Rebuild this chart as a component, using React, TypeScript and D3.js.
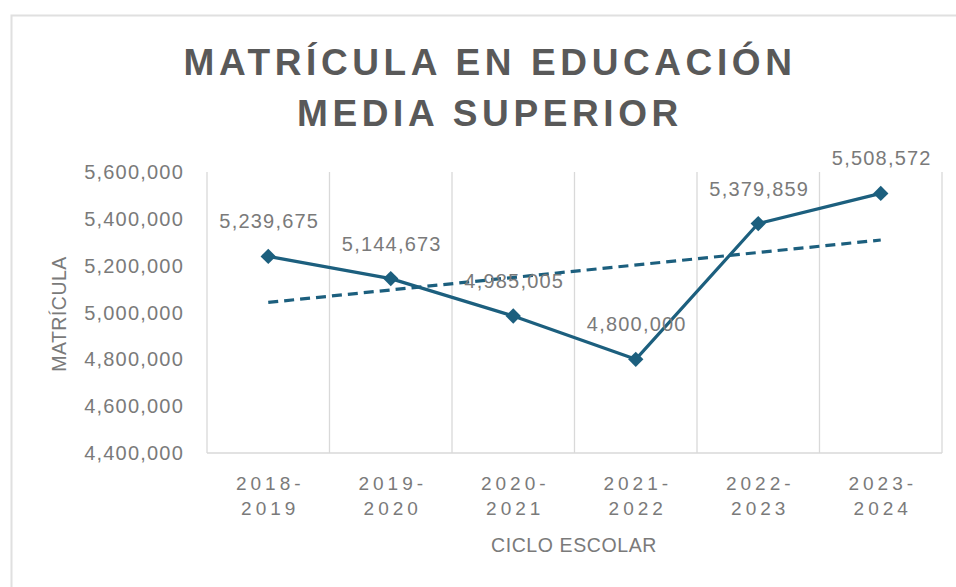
import React from "react";
import * as d3 from "d3";

const categories: string[][] = [
  ["2018-", "2019"],
  ["2019-", "2020"],
  ["2020-", "2021"],
  ["2021-", "2022"],
  ["2022-", "2023"],
  ["2023-", "2024"],
];
const values: number[] = [5239675, 5144673, 4985005, 4800000, 5379859, 5508572];
const yTicks: number[] = [4400000, 4600000, 4800000, 5000000, 5200000, 5400000, 5600000];
const titleLines: string[] = ["MATRÍCULA EN EDUCACIÓN", "MEDIA SUPERIOR"];
const yTitle = "MATRÍCULA";
const xTitle = "CICLO ESCOLAR";

const W = 956;
const H = 587;
const left = 207;
const right = 942;
const top = 172;
const bottom = 453;
const lineColor = "#1c5f7e";
const textGray = "#7a7a7a";
const gridGray = "#d9d9d9";
const font = "'Liberation Sans', Arial, sans-serif";

export default function App() {
  const keys = categories.map((c) => c.join(""));
  const x = d3.scaleBand<string>().domain(keys).range([left, right]).padding(0);
  const y = d3.scaleLinear().domain([4400000, 5600000]).range([bottom, top]);
  const cx = (i: number) => (x(keys[i]) as number) + x.bandwidth() / 2;
  const fmt = d3.format(",");

  const pts: [number, number][] = values.map((v, i) => [cx(i), y(v)]);
  const line = d3.line<[number, number]>()(pts) || "";

  // linear trend (least squares over index)
  const n = values.length;
  const idx = values.map((_, i) => i + 1);
  const mx = d3.mean(idx) as number;
  const my = d3.mean(values) as number;
  const sxy = d3.sum(idx.map((xi, i) => (xi - mx) * (values[i] - my)));
  const sxx = d3.sum(idx.map((xi) => (xi - mx) * (xi - mx)));
  const slope = sxy / sxx;
  const icpt = my - slope * mx;
  const trendPts: [number, number][] = [
    [cx(0), y(icpt + slope * 1)],
    [cx(n - 1), y(icpt + slope * n)],
  ];
  const trend = d3.line<[number, number]>()(trendPts) || "";

  const boundaries = d3.range(keys.length + 1).map((i) =>
    i < keys.length ? (x(keys[i]) as number) : right
  );

  return (
    <svg
      width={W}
      height={H}
      style={{ position: "absolute", left: 0, top: 0, background: "#fff" }}
      fontFamily={font}
    >
      <rect x={11.5} y={15.5} width={W + 20} height={H + 20} fill="#fff" stroke="#e0e0e0" strokeWidth={2} />
      {/* title */}
      {titleLines.map((t, i) => (
        <text
          key={t}
          x={490}
          y={75 + i * 51}
          textAnchor="middle"
          fontSize={37}
          fontWeight="bold"
          fill="#595959"
          letterSpacing={4.6}
        >
          {t}
        </text>
      ))}
      {/* grid / axes */}
      {boundaries.map((bx, i) => (
        <line key={i} x1={bx} x2={bx} y1={top} y2={bottom} stroke={gridGray} strokeWidth={1.3} />
      ))}
      <line x1={left} x2={right} y1={bottom} y2={bottom} stroke={gridGray} strokeWidth={1.5} />
      {/* y ticks */}
      {yTicks.map((t) => (
        <text
          key={t}
          x={184}
          y={y(t) + 7}
          textAnchor="end"
          fontSize={20}
          fill={textGray}
          letterSpacing={1.2}
        >
          {fmt(t)}
        </text>
      ))}
      {/* x labels */}
      {categories.map((c, i) => (
        <text key={keys[i]} textAnchor="middle" fontSize={19} fill={textGray} letterSpacing={4}>
          <tspan x={cx(i) + 2} y={490}>
            {c[0]}
          </tspan>
          <tspan x={cx(i) + 2} y={515}>
            {c[1]}
          </tspan>
        </text>
      ))}
      <text x={574} y={552} textAnchor="middle" fontSize={19.5} fill={textGray} letterSpacing={0.6}>
        {xTitle}
      </text>
      <text
        transform={`translate(66,${314}) rotate(-90)`}
        textAnchor="middle"
        fontSize={19.5}
        fill={textGray}
        letterSpacing={0.5}
      >
        {yTitle}
      </text>
      {/* trend */}
      <path d={trend} fill="none" stroke={lineColor} strokeWidth={3.2} strokeDasharray="10,6" />
      {/* series */}
      <path d={line} fill="none" stroke={lineColor} strokeWidth={3.2} strokeLinejoin="round" />
      {pts.map(([px, py], i) => (
        <path
          key={i}
          d={d3.symbol(d3.symbolDiamond2, 150)() || ""}
          transform={`translate(${px},${py})`}
          fill={lineColor}
        />
      ))}
      {/* data labels */}
      {pts.map(([px, py], i) => (
        <text
          key={"l" + i}
          x={px + 1}
          y={py - 28}
          textAnchor="middle"
          fontSize={20}
          fill={textGray}
          letterSpacing={1.2}
        >
          {fmt(values[i])}
        </text>
      ))}
    </svg>
  );
}
